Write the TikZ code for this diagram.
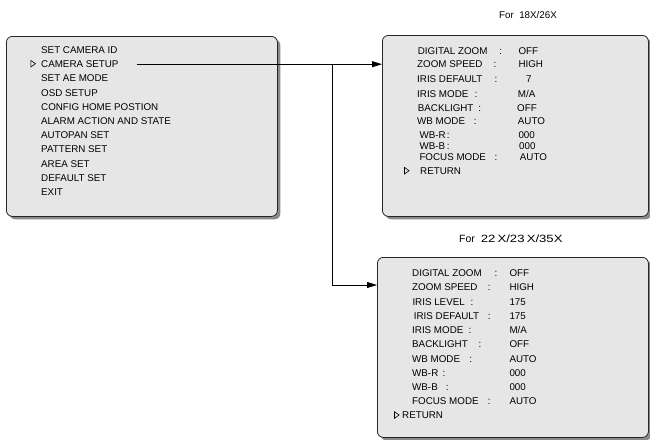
\documentclass[tikz,border=0pt]{standalone}
\usepackage{fontspec}
\setmainfont{Liberation Sans}
\usetikzlibrary{positioning}
\usetikzlibrary{arrows.meta}
\usetikzlibrary{shadows}
\definecolor{panel}{HTML}{E6E6E6}
\definecolor{shade}{HTML}{8A8A8A}
\tikzset{
  % An on-screen menu window
  osd/.style={
    draw=black!85, fill=panel, rounded corners=6pt, line width=0.8pt,
    drop shadow={shadow xshift=3pt, shadow yshift=-3pt, fill=shade, opacity=1},
    anchor=north west},
  % One line of menu text
  menutext/.style={
    font=\fontsize{9.8}{12}\selectfont, inner sep=0pt, anchor=west,
    text height=7pt, text depth=0pt},
  colon/.style={menutext, anchor=center},
  % Selection cursor
  cursor/.pic={\draw[line width=0.6pt] (-2.2,-3.3) -- (2.4,0) -- (-2.2,3.3) -- cycle;},
  % Menu links
  flow/.style={-{Triangle[length=10pt,width=6pt]}, line width=0.8pt},
}
\begin{document}
\begin{tikzpicture}[x=1pt, y=-1pt]
\useasboundingbox (0,0) rectangle (650,439);

% main menu
\node[osd, minimum width=271pt, minimum height=180pt] (mainmenu) at (6,36) {};
\foreach \txt [count=\n] in {SET CAMERA ID, CAMERA SETUP, SET AE MODE, OSD SETUP,
    CONFIG HOME POSTION, ALARM ACTION AND STATE, AUTOPAN SET, PATTERN SET,
    AREA SET, DEFAULT SET, EXIT}
  \node[menutext] (main\n) at (41,35.8+14.2*\n) {\txt};
\pic at (33,63.7) {cursor};

% camera setup, 18X/26X
\node[menutext, anchor=center] (head18) at (528,14.7) {For\ \ 18X/26X};
\node[osd, minimum width=266pt, minimum height=181pt] (setup18) at (382,35) {};
\foreach \y/\lab/\lx/\cx/\val/\vx [count=\n] in {
    50.7/DIGITAL ZOOM/417.7/500.7/OFF/518.3,
    64.3/ZOOM SPEED/417/495/HIGH/518.3,
    78.7/IRIS DEFAULT/417/496/7/526,
    93.7/IRIS MODE/417/476/{M/A}/517.7,
    108.3/BACKLIGHT/417.7/479.7/OFF/517,
    120.7/WB MODE/417/475.3/AUTO/517.7,
    134.7/WB-R/419.3/448.3/000/518.3,
    145.7/WB-B/419.3/448.3/000/519,
    157.3/FOCUS MODE/419.3/496/AUTO/519.7}
{
  \node[menutext] (a\n) at (\lx,\y) {\lab};
  \node[colon] (ac\n) at (\cx,\y) {:};
  \node[menutext] (av\n) at (\vx,\y) {\val};
}
\node[menutext] (aret) at (420,170.7) {RETURN};
\pic at (406.7,170.7) {cursor};

% camera setup, 22X/23X/35X
\node[menutext, anchor=west, font=\fontsize{10.5}{12}\selectfont] (head22) at (459,239.3)
  {For\ \ \scalebox{1.25}[1]{22\,X/23\,X/35X}};
\node[osd, minimum width=271pt, minimum height=180pt] (setup22) at (377,257) {};
\foreach \y/\lab/\lx/\cx/\val [count=\n] in {
    272.7/DIGITAL ZOOM/412/496/OFF,
    287.3/ZOOM SPEED/412/489.3/HIGH,
    301.7/IRIS LEVEL/412.3/472/175,
    315.7/IRIS DEFAULT/413.7/489.3/175,
    330.3/IRIS MODE/412/470/{M/A},
    344.3/BACKLIGHT/412/480/OFF,
    359/WB MODE/412/470.7/AUTO,
    372.7/WB-R/412/444/000,
    387/WB-B/412/447.3/000,
    400.7/FOCUS MODE/412/489.3/AUTO}
{
  \node[menutext] (b\n) at (\lx,\y) {\lab};
  \node[colon] (bc\n) at (\cx,\y) {:};
  \node[menutext] (bv\n) at (509.3,\y) {\val};
}
\node[menutext] (bret) at (402,415) {RETURN};
\pic at (396.7,415) {cursor};

% links
\coordinate (split) at (332,63.7);
\draw[flow] ([xshift=18pt]main2.east) -- (main2.east -| setup18.west);
\draw[flow] (split) |- ([yshift=-28pt]setup22.north west);

\end{tikzpicture}
\end{document}
